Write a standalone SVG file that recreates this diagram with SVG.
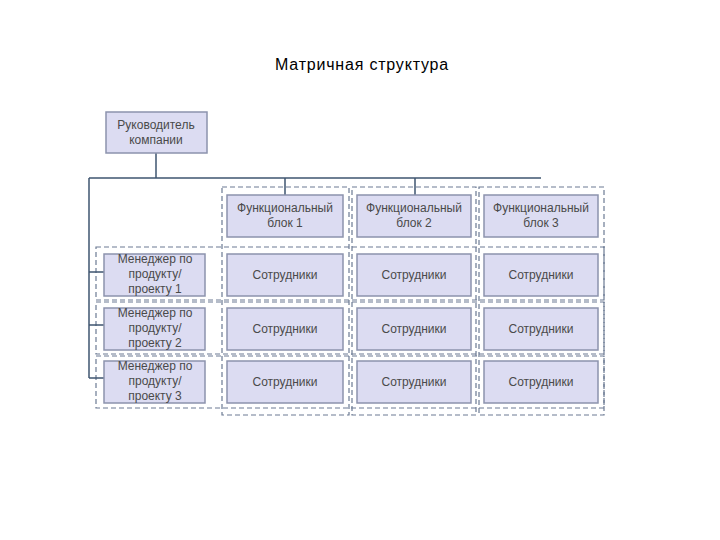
<svg xmlns="http://www.w3.org/2000/svg" width="720" height="540" viewBox="0 0 720 540">
<style>
.b{fill:#dcdcf2;stroke:#8c93ad;stroke-width:1.5}
.d{fill:none;stroke:#6c7b93;stroke-width:1.2;stroke-dasharray:5,3}
.t{font-family:"Liberation Sans",Arial,sans-serif;font-size:12px;fill:#4a4a4a;text-anchor:middle}
.c{fill:none;stroke:#3f5670;stroke-width:1.5}
</style>
<rect width="720" height="540" fill="#fff"/>
<text x="362" y="70" style="font-family:'Liberation Sans',Arial,sans-serif;font-size:16px;letter-spacing:0.8px;fill:#000;text-anchor:middle">Матричная структура</text>
<g id="groups">
<rect class="d" x="222" y="187" width="127" height="228"/>
<rect class="d" x="352" y="187" width="124" height="228"/>
<rect class="d" x="479" y="187" width="125" height="228"/>
<rect class="d" x="96" y="247" width="508" height="53"/>
<rect class="d" x="96" y="302" width="508" height="52"/>
<rect class="d" x="96" y="356" width="508" height="52"/>
</g>
<g id="connectors">
<path class="c" d="M156 153V178M89 178H541M285 178V195M415 178V195M89 178V378M89 272H104M89 325H104M89 378H104"/>
</g>
<g id="ceo"><rect class="b" x="106" y="112" width="101" height="41"/><text class="t" x="156" y="129">Руководитель</text><text class="t" x="156" y="144">компании</text></g>
<g id="f1"><rect class="b" x="227" y="195" width="116" height="42"/><text class="t" x="285" y="212">Функциональный</text><text class="t" x="285" y="227">блок 1</text></g>
<g id="f2"><rect class="b" x="357" y="195" width="114" height="42"/><text class="t" x="414" y="212">Функциональный</text><text class="t" x="414" y="227">блок 2</text></g>
<g id="f3"><rect class="b" x="484" y="195" width="114" height="42"/><text class="t" x="541" y="212">Функциональный</text><text class="t" x="541" y="227">блок 3</text></g>
<g id="m1"><rect class="b" x="104" y="254" width="101" height="42"/><text class="t" x="155" y="263">Менеджер по</text><text class="t" x="155" y="278">продукту/</text><text class="t" x="155" y="293">проекту 1</text></g>
<g id="m2"><rect class="b" x="104" y="308" width="101" height="42"/><text class="t" x="155" y="317">Менеджер по</text><text class="t" x="155" y="332">продукту/</text><text class="t" x="155" y="347">проекту 2</text></g>
<g id="m3"><rect class="b" x="104" y="361" width="101" height="42"/><text class="t" x="155" y="370">Менеджер по</text><text class="t" x="155" y="385">продукту/</text><text class="t" x="155" y="400">проекту 3</text></g>
<g id="e11"><rect class="b" x="227" y="254" width="116" height="42"/><text class="t" x="285" y="279">Сотрудники</text></g>
<g id="e12"><rect class="b" x="357" y="254" width="114" height="42"/><text class="t" x="414" y="279">Сотрудники</text></g>
<g id="e13"><rect class="b" x="484" y="254" width="114" height="42"/><text class="t" x="541" y="279">Сотрудники</text></g>
<g id="e21"><rect class="b" x="227" y="308" width="116" height="42"/><text class="t" x="285" y="333">Сотрудники</text></g>
<g id="e22"><rect class="b" x="357" y="308" width="114" height="42"/><text class="t" x="414" y="333">Сотрудники</text></g>
<g id="e23"><rect class="b" x="484" y="308" width="114" height="42"/><text class="t" x="541" y="333">Сотрудники</text></g>
<g id="e31"><rect class="b" x="227" y="361" width="116" height="42"/><text class="t" x="285" y="386">Сотрудники</text></g>
<g id="e32"><rect class="b" x="357" y="361" width="114" height="42"/><text class="t" x="414" y="386">Сотрудники</text></g>
<g id="e33"><rect class="b" x="484" y="361" width="114" height="42"/><text class="t" x="541" y="386">Сотрудники</text></g>
</svg>
